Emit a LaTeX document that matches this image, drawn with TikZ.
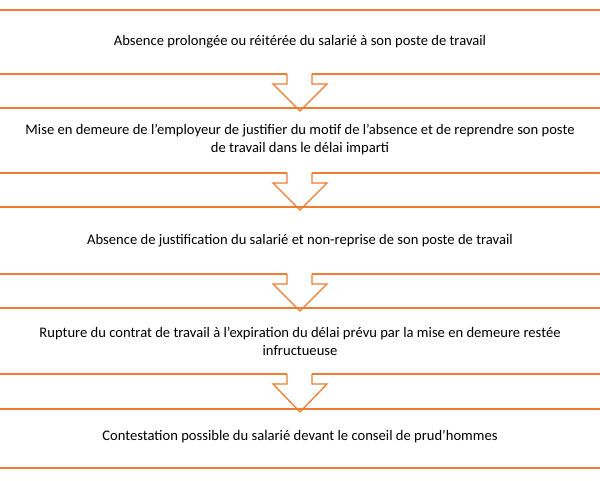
\documentclass[tikz,border=0pt]{standalone}
\usepackage{fontspec}
\setmainfont{Carlito}
\definecolor{og}{RGB}{237,125,49}
\begin{document}
\begin{tikzpicture}[x=1pt,y=-1pt,
  edge/.style={draw=og,line width=1.3pt},
  txt/.style={align=center,font=\fontsize{14.6}{18}\selectfont,inner sep=0pt}]
\clip (0,0) rectangle (600,480);
\useasboundingbox (0,0) rectangle (600,480);
\def\tops{{10,108,207,308,409}}
\def\bots{{74,173,274,374,468}}
\foreach \i in {0,...,4}{
  \pgfmathsetmacro\T{\tops[\i]}
  \draw[edge] (-10,\T) -- (610,\T);
}
\foreach \i in {0,...,3}{
  \pgfmathsetmacro\B{\bots[\i]}
  \pgfmathsetmacro\N{\tops[\i+1]}
  \draw[edge] (-10,\B) -- (287,\B);
  \draw[edge] (312,\B) -- (610,\B);
  \draw[edge,line join=miter] (287,\B) -- (287,\B+10) -- (273,\B+10) -- (300,\N+3) -- (327,\B+10) -- (312,\B+10) -- (312,\B);
}
\draw[edge] (-10,468) -- (610,468);
\node[txt] (t1) at (300,42) {Absence prolongée ou réitérée du salarié à son poste de travail};
\node[txt] (t2) at (300,140) {Mise en demeure de l'employeur de justifier du motif de l'absence et de reprendre son poste\\de travail dans le délai imparti};
\node[txt] (t3) at (300,241) {Absence de justification du salarié et non-reprise de son poste de travail};
\node[txt] (t4) at (300,341) {Rupture du contrat de travail à l'expiration du délai prévu par la mise en demeure restée\\infructueuse};
\node[txt] (t5) at (300,437) {Contestation possible du salarié devant le conseil de prud'hommes};
\end{tikzpicture}
\end{document}
